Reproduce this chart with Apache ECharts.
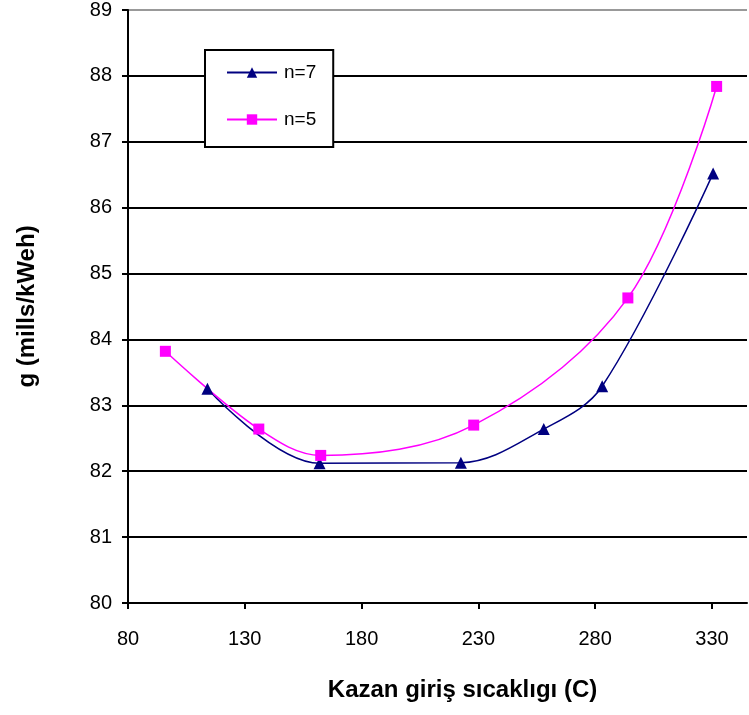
<!DOCTYPE html>
<html>
<head>
<meta charset="utf-8">
<script src="https://cdn.jsdelivr.net/npm/echarts@6/dist/echarts.min.js"></script>
<style>
  html, body { margin: 0; padding: 0; background: #fff; }
  #chart { width: 749px; height: 715px; }
</style>
</head>
<body>
<div id="chart"></div>
<script>
// Boiler inlet temperature vs. cost, two stage counts
const seriesNames = ['n=7', 'n=5'];
const tempN7 = [114, 162, 222.5, 258, 283, 330.5];
const costN7 = [83.25, 82.12, 82.13, 82.64, 83.29, 86.52];
const tempN5 = [96, 136, 162.5, 228, 294, 332];
const costN5 = [83.82, 82.64, 82.24, 82.70, 84.63, 87.84];
const xTicks = [80, 130, 180, 230, 280, 330];
const yTicks = [80, 81, 82, 83, 84, 85, 86, 87, 88, 89];

const pairs = (xs, ys) => xs.map((x, i) => [x, ys[i]]);

const chart = echarts.init(document.getElementById('chart'), null, { renderer: 'canvas' });
const font = 'Liberation Sans, Arial, sans-serif';

chart.setOption({
  backgroundColor: '#ffffff',
  animation: false,
  grid: { left: 128, top: 8, width: 619, height: 595, containLabel: false },
  legend: {
    orient: 'vertical',
    left: 205,
    top: 50,
    padding: [13, 17, 18, 21],
    itemWidth: 50,
    itemHeight: 13,
    itemGap: 28,
    backgroundColor: '#fff',
    borderColor: '#000',
    borderWidth: 2,
    borderRadius: 0,
    textStyle: { fontFamily: font, fontSize: 19, color: '#000', padding: [0, 0, 0, 2] },
    data: seriesNames
  },
  xAxis: {
    type: 'value',
    min: xTicks[0],
    max: 345,
    interval: 50,
    name: 'Kazan giriş sıcaklıgı (C)',
    nameLocation: 'middle',
    nameGap: 75,
    nameTextStyle: { fontFamily: font, fontSize: 24, fontWeight: 'bold', color: '#000', padding: [0, 0, 0, 50] },
    axisLine: { lineStyle: { color: '#000', width: 2 } },
    axisTick: {
      show: true, inside: false, length: 6, customValues: xTicks,
      lineStyle: { color: '#000', width: 2 }
    },
    axisLabel: { fontFamily: font, fontSize: 20, color: '#000', margin: 26, customValues: xTicks },
    splitLine: { show: false }
  },
  yAxis: {
    type: 'value',
    min: yTicks[0],
    max: yTicks[yTicks.length - 1],
    interval: 1,
    name: 'g (mills/kWeh)',
    nameLocation: 'middle',
    nameGap: 89,
    nameTextStyle: { fontFamily: font, fontSize: 24, fontWeight: 'bold', color: '#000' },
    axisLine: { lineStyle: { color: '#000', width: 2 } },
    axisTick: { show: true, inside: false, length: 6, lineStyle: { color: '#000', width: 2 } },
    axisLabel: { fontFamily: font, fontSize: 20, color: '#000', margin: 16 },
    splitLine: {
      show: true,
      lineStyle: {
        color: ['#000', '#000', '#000', '#000', '#000', '#000', '#000', '#000', '#000', '#999'],
        width: 2
      }
    }
  },
  series: [
    {
      name: seriesNames[0],
      type: 'line',
      data: pairs(tempN7, costN7),
      smooth: 0.35,
      symbol: 'triangle',
      symbolSize: 12,
      itemStyle: { color: '#000080' },
      lineStyle: { color: '#000080', width: 1.5 }
    },
    {
      name: seriesNames[1],
      type: 'line',
      data: pairs(tempN5, costN5),
      smooth: 0.35,
      symbol: 'rect',
      symbolSize: 11,
      itemStyle: { color: '#ff00ff' },
      lineStyle: { color: '#ff00ff', width: 1.5 }
    }
  ]
});
</script>
</body>
</html>
